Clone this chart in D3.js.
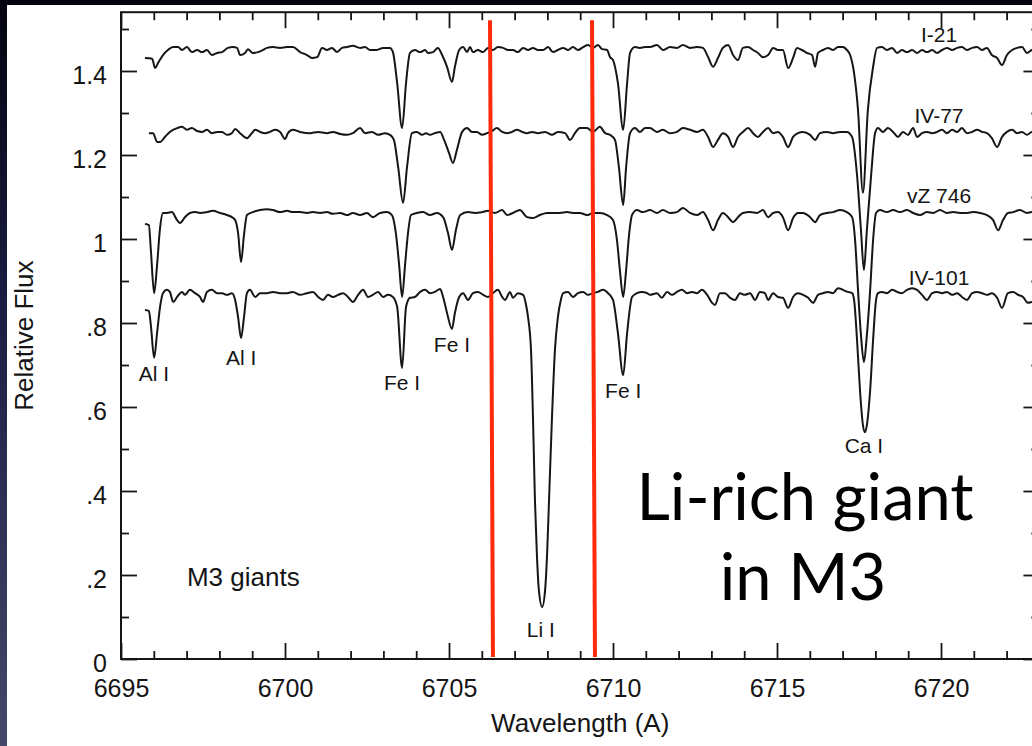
<!DOCTYPE html>
<html>
<head>
<meta charset="utf-8">
<script src="https://cdn.jsdelivr.net/npm/d3@7"></script>
<style>
  html, body { margin: 0; padding: 0; background: #0b0c20; overflow: hidden; }
  svg { display: block; }
</style>
</head>
<body>
<svg id="chart" width="1032" height="746"></svg>
<script>
// ---- Spectra of four M3 red giants: [wavelength (A), relative flux] ----
const specI21 = [
  [6695.73,1.431],[6695.95,1.429],[6696.04,1.407],[6696.13,1.419],[6696.28,1.438],[6696.43,1.450],[6696.59,1.457],[6696.74,1.457],
  [6696.86,1.450],[6697.01,1.457],[6697.16,1.445],[6697.32,1.450],[6697.47,1.445],[6697.62,1.450],[6697.77,1.438],[6697.93,1.443],
  [6698.08,1.445],[6698.26,1.455],[6698.41,1.457],[6698.54,1.455],[6698.63,1.438],[6698.78,1.443],[6698.87,1.452],[6699.02,1.443],
  [6699.18,1.445],[6699.33,1.450],[6699.45,1.455],[6699.63,1.457],[6699.85,1.455],[6700.06,1.457],[6700.24,1.457],[6700.46,1.445],
  [6700.67,1.438],[6700.82,1.431],[6700.98,1.433],[6701.13,1.455],[6701.28,1.450],[6701.43,1.455],[6701.59,1.445],[6701.74,1.455],
  [6701.89,1.457],[6702.07,1.460],[6702.29,1.455],[6702.44,1.457],[6702.59,1.450],[6702.80,1.450],[6702.99,1.455],[6703.20,1.455],
  [6703.29,1.445],[6703.42,1.371],[6703.57,1.264],[6703.69,1.371],[6703.81,1.443],[6703.96,1.450],[6704.12,1.445],[6704.27,1.450],
  [6704.36,1.443],[6704.51,1.445],[6704.66,1.455],[6704.79,1.438],[6704.94,1.410],[6705.09,1.374],[6705.18,1.410],[6705.31,1.450],
  [6705.43,1.457],[6705.55,1.445],[6705.64,1.457],[6705.73,1.445],[6705.88,1.450],[6706.04,1.445],[6706.19,1.455],[6706.34,1.450],
  [6706.49,1.457],[6706.65,1.455],[6706.80,1.450],[6706.95,1.450],[6707.10,1.445],[6707.26,1.455],[6707.41,1.450],[6707.56,1.455],
  [6707.71,1.450],[6707.87,1.450],[6708.02,1.457],[6708.17,1.445],[6708.32,1.450],[6708.48,1.455],[6708.63,1.450],[6708.78,1.457],
  [6708.93,1.450],[6709.09,1.457],[6709.24,1.462],[6709.39,1.455],[6709.54,1.462],[6709.67,1.452],[6709.82,1.450],[6709.91,1.433],
  [6710.00,1.426],[6710.15,1.371],[6710.31,1.260],[6710.43,1.371],[6710.52,1.443],[6710.67,1.457],[6710.82,1.455],[6710.98,1.457],
  [6711.13,1.457],[6711.34,1.462],[6711.52,1.450],[6711.74,1.457],[6711.95,1.455],[6712.13,1.462],[6712.35,1.455],[6712.56,1.457],
  [6712.74,1.455],[6712.90,1.433],[6713.05,1.410],[6713.20,1.431],[6713.35,1.455],[6713.51,1.462],[6713.66,1.438],[6713.81,1.426],
  [6713.96,1.455],[6714.12,1.457],[6714.27,1.450],[6714.42,1.443],[6714.57,1.433],[6714.73,1.438],[6714.88,1.455],[6715.03,1.450],
  [6715.18,1.450],[6715.34,1.407],[6715.49,1.431],[6715.61,1.455],[6715.76,1.450],[6715.91,1.443],[6716.07,1.438],[6716.16,1.410],
  [6716.25,1.443],[6716.40,1.450],[6716.55,1.455],[6716.71,1.450],[6716.86,1.457],[6717.01,1.457],[6717.13,1.450],[6717.23,1.438],
  [6717.35,1.395],[6717.47,1.307],[6717.62,1.110],[6717.77,1.307],[6717.93,1.410],[6718.05,1.455],[6718.20,1.457],[6718.35,1.450],
  [6718.51,1.455],[6718.66,1.443],[6718.81,1.450],[6718.96,1.445],[6719.12,1.450],[6719.27,1.443],[6719.42,1.450],[6719.57,1.445],
  [6719.73,1.450],[6719.88,1.443],[6720.03,1.450],[6720.18,1.455],[6720.34,1.450],[6720.49,1.455],[6720.64,1.457],[6720.79,1.450],
  [6720.95,1.455],[6721.10,1.457],[6721.25,1.450],[6721.40,1.455],[6721.55,1.438],[6721.71,1.431],[6721.86,1.414],[6722.01,1.438],
  [6722.17,1.450],[6722.32,1.455],[6722.47,1.457],[6722.62,1.443],[6722.77,1.450],[6723.00,1.452]
];

const specIV77 = [
  [6695.85,1.252],[6695.98,1.252],[6696.10,1.231],[6696.19,1.231],[6696.34,1.243],[6696.49,1.255],[6696.71,1.264],[6696.86,1.267],
  [6697.01,1.260],[6697.16,1.264],[6697.32,1.257],[6697.47,1.255],[6697.62,1.260],[6697.77,1.252],[6697.93,1.255],[6698.08,1.255],
  [6698.23,1.248],[6698.38,1.252],[6698.48,1.262],[6698.63,1.252],[6698.84,1.240],[6698.99,1.252],[6699.09,1.260],[6699.24,1.255],
  [6699.39,1.252],[6699.54,1.255],[6699.70,1.260],[6699.85,1.255],[6700.00,1.238],[6700.09,1.252],[6700.24,1.260],[6700.46,1.255],
  [6700.76,1.252],[6701.01,1.255],[6701.28,1.252],[6701.46,1.255],[6701.68,1.250],[6701.89,1.248],[6702.07,1.252],[6702.29,1.264],
  [6702.44,1.252],[6702.65,1.255],[6702.84,1.248],[6703.05,1.252],[6703.20,1.248],[6703.32,1.236],[6703.45,1.171],[6703.60,1.086],
  [6703.72,1.171],[6703.87,1.252],[6704.02,1.255],[6704.18,1.248],[6704.30,1.252],[6704.42,1.248],[6704.57,1.252],[6704.73,1.255],
  [6704.85,1.236],[6705.00,1.205],[6705.12,1.181],[6705.24,1.212],[6705.40,1.255],[6705.55,1.264],[6705.70,1.255],[6705.85,1.255],
  [6706.01,1.248],[6706.16,1.252],[6706.31,1.257],[6706.46,1.264],[6706.62,1.255],[6706.77,1.252],[6706.92,1.255],[6707.07,1.260],
  [6707.23,1.255],[6707.38,1.252],[6707.53,1.255],[6707.71,1.252],[6707.93,1.255],[6708.14,1.248],[6708.32,1.255],[6708.54,1.252],
  [6708.69,1.236],[6708.84,1.252],[6708.99,1.264],[6709.21,1.264],[6709.39,1.255],[6709.60,1.267],[6709.76,1.252],[6709.91,1.248],
  [6710.06,1.236],[6710.18,1.171],[6710.31,1.081],[6710.40,1.171],[6710.52,1.252],[6710.67,1.264],[6710.82,1.255],[6710.98,1.264],
  [6711.13,1.264],[6711.34,1.255],[6711.52,1.260],[6711.74,1.252],[6711.95,1.255],[6712.13,1.264],[6712.35,1.260],[6712.56,1.255],
  [6712.74,1.260],[6712.90,1.243],[6713.05,1.219],[6713.20,1.236],[6713.35,1.252],[6713.51,1.243],[6713.66,1.219],[6713.81,1.243],
  [6713.96,1.255],[6714.12,1.264],[6714.27,1.252],[6714.42,1.243],[6714.57,1.255],[6714.73,1.264],[6714.88,1.252],[6715.03,1.255],
  [6715.18,1.243],[6715.34,1.219],[6715.49,1.243],[6715.64,1.252],[6715.79,1.255],[6716.01,1.248],[6716.16,1.236],[6716.31,1.252],
  [6716.52,1.255],[6716.71,1.252],[6716.92,1.255],[6717.13,1.255],[6717.29,1.243],[6717.44,1.152],[6717.56,1.021],[6717.65,0.926],
  [6717.74,1.021],[6717.87,1.152],[6717.99,1.252],[6718.08,1.264],[6718.23,1.255],[6718.38,1.264],[6718.54,1.255],[6718.69,1.243],
  [6718.84,1.255],[6718.99,1.248],[6719.15,1.264],[6719.27,1.243],[6719.42,1.252],[6719.57,1.255],[6719.73,1.252],[6719.88,1.255],
  [6720.03,1.260],[6720.18,1.252],[6720.34,1.260],[6720.49,1.255],[6720.64,1.264],[6720.79,1.252],[6720.95,1.255],[6721.10,1.260],
  [6721.25,1.255],[6721.40,1.252],[6721.55,1.240],[6721.71,1.219],[6721.86,1.243],[6722.01,1.255],[6722.17,1.260],[6722.32,1.252],
  [6722.47,1.255],[6722.62,1.248],[6722.77,1.255],[6723.00,1.255]
];

const specVZ746 = [
  [6695.73,1.036],[6695.85,1.033],[6695.91,0.974],[6696.01,0.871],[6696.10,0.938],[6696.19,1.026],[6696.28,1.062],[6696.40,1.062],
  [6696.55,1.064],[6696.71,1.045],[6696.80,1.038],[6696.95,1.052],[6697.10,1.062],[6697.26,1.064],[6697.41,1.062],[6697.62,1.064],
  [6697.80,1.067],[6698.02,1.062],[6698.23,1.057],[6698.38,1.052],[6698.48,1.045],[6698.57,1.014],[6698.66,0.945],[6698.75,1.010],
  [6698.84,1.057],[6699.02,1.064],[6699.24,1.069],[6699.45,1.071],[6699.63,1.069],[6699.85,1.064],[6700.06,1.067],[6700.24,1.064],
  [6700.46,1.064],[6700.67,1.062],[6700.85,1.064],[6701.07,1.062],[6701.28,1.064],[6701.46,1.060],[6701.68,1.062],[6701.89,1.057],
  [6702.07,1.062],[6702.29,1.057],[6702.50,1.062],[6702.68,1.052],[6702.90,1.062],[6703.11,1.064],[6703.26,1.057],[6703.38,1.014],
  [6703.48,0.938],[6703.57,0.862],[6703.66,0.938],[6703.75,1.014],[6703.84,1.057],[6704.02,1.062],[6704.21,1.064],[6704.42,1.057],
  [6704.63,1.062],[6704.82,1.052],[6704.97,1.014],[6705.09,0.974],[6705.21,1.021],[6705.34,1.057],[6705.58,1.064],[6705.79,1.062],
  [6706.01,1.064],[6706.19,1.067],[6706.40,1.062],[6706.62,1.069],[6706.77,1.057],[6706.95,1.062],[6707.16,1.069],[6707.38,1.052],
  [6707.56,1.050],[6707.77,1.057],[6707.99,1.062],[6708.17,1.062],[6708.38,1.062],[6708.60,1.064],[6708.78,1.062],[6708.99,1.062],
  [6709.21,1.057],[6709.39,1.062],[6709.60,1.062],[6709.82,1.057],[6710.00,1.045],[6710.12,0.998],[6710.21,0.926],[6710.31,0.862],
  [6710.40,0.926],[6710.49,1.010],[6710.58,1.057],[6710.73,1.069],[6710.91,1.064],[6711.13,1.069],[6711.34,1.062],[6711.52,1.069],
  [6711.74,1.062],[6711.95,1.064],[6712.13,1.074],[6712.35,1.062],[6712.56,1.057],[6712.74,1.064],[6712.90,1.045],[6713.05,1.021],
  [6713.20,1.045],[6713.35,1.062],[6713.51,1.052],[6713.66,1.040],[6713.81,1.052],[6713.96,1.062],[6714.18,1.064],[6714.39,1.062],
  [6714.57,1.069],[6714.73,1.052],[6714.88,1.062],[6715.03,1.064],[6715.18,1.052],[6715.34,1.021],[6715.49,1.050],[6715.64,1.062],
  [6715.79,1.062],[6716.01,1.052],[6716.16,1.040],[6716.31,1.057],[6716.52,1.062],[6716.71,1.064],[6716.92,1.069],[6717.13,1.064],
  [6717.29,1.052],[6717.38,0.998],[6717.47,0.879],[6717.56,0.771],[6717.65,0.707],[6717.74,0.771],[6717.84,0.879],[6717.93,0.998],
  [6718.02,1.062],[6718.14,1.069],[6718.35,1.064],[6718.54,1.069],[6718.75,1.064],[6718.96,1.069],[6719.15,1.062],[6719.36,1.057],
  [6719.57,1.064],[6719.76,1.062],[6719.97,1.069],[6720.18,1.062],[6720.37,1.064],[6720.58,1.062],[6720.79,1.062],[6720.98,1.064],
  [6721.19,1.062],[6721.40,1.057],[6721.59,1.045],[6721.74,1.021],[6721.89,1.045],[6722.04,1.062],[6722.20,1.064],[6722.41,1.069],
  [6722.62,1.062],[6722.77,1.064],[6723.00,1.064]
];

const specIV101 = [
  [6695.73,0.831],[6695.85,0.829],[6695.91,0.795],[6696.01,0.717],[6696.10,0.776],[6696.19,0.838],[6696.28,0.871],[6696.40,0.879],
  [6696.49,0.874],[6696.59,0.850],[6696.71,0.862],[6696.86,0.874],[6696.95,0.867],[6697.10,0.879],[6697.26,0.871],[6697.41,0.862],
  [6697.50,0.850],[6697.62,0.874],[6697.77,0.879],[6697.93,0.871],[6698.08,0.871],[6698.23,0.867],[6698.38,0.871],[6698.48,0.855],
  [6698.57,0.814],[6698.66,0.764],[6698.75,0.814],[6698.84,0.871],[6698.93,0.879],[6699.09,0.862],[6699.24,0.871],[6699.45,0.871],
  [6699.63,0.874],[6699.85,0.871],[6700.06,0.871],[6700.24,0.874],[6700.46,0.867],[6700.67,0.871],[6700.85,0.874],[6701.01,0.862],
  [6701.16,0.855],[6701.31,0.867],[6701.46,0.862],[6701.62,0.867],[6701.77,0.871],[6701.92,0.862],[6702.07,0.850],[6702.23,0.867],
  [6702.38,0.879],[6702.53,0.862],[6702.68,0.867],[6702.84,0.874],[6702.99,0.862],[6703.14,0.867],[6703.29,0.862],[6703.42,0.838],
  [6703.57,0.693],[6703.69,0.838],[6703.81,0.860],[6703.96,0.862],[6704.12,0.874],[6704.27,0.879],[6704.42,0.871],[6704.57,0.874],
  [6704.73,0.881],[6704.82,0.862],[6704.94,0.824],[6705.09,0.786],[6705.18,0.824],[6705.31,0.862],[6705.43,0.871],[6705.58,0.855],
  [6705.73,0.871],[6705.88,0.874],[6706.04,0.867],[6706.19,0.862],[6706.34,0.871],[6706.49,0.879],[6706.62,0.862],[6706.71,0.855],
  [6706.86,0.874],[6706.95,0.860],[6707.10,0.871],[6707.26,0.867],[6707.35,0.843],[6707.41,0.814],[6707.50,0.736],[6707.56,0.576],
  [6707.62,0.379],[6707.68,0.248],[6707.74,0.164],[6707.84,0.124],[6707.93,0.164],[6707.99,0.248],[6708.05,0.379],[6708.14,0.576],
  [6708.23,0.736],[6708.32,0.814],[6708.41,0.855],[6708.48,0.871],[6708.63,0.874],[6708.78,0.862],[6708.93,0.871],[6709.09,0.874],
  [6709.24,0.867],[6709.39,0.871],[6709.54,0.874],[6709.70,0.879],[6709.85,0.871],[6710.00,0.855],[6710.15,0.776],[6710.31,0.676],
  [6710.43,0.776],[6710.58,0.862],[6710.73,0.871],[6710.88,0.874],[6711.04,0.871],[6711.13,0.867],[6711.34,0.871],[6711.49,0.860],
  [6711.65,0.874],[6711.80,0.867],[6711.95,0.874],[6712.10,0.879],[6712.26,0.871],[6712.41,0.874],[6712.56,0.871],[6712.71,0.879],
  [6712.87,0.867],[6713.02,0.848],[6713.11,0.843],[6713.26,0.871],[6713.41,0.871],[6713.57,0.860],[6713.72,0.855],[6713.87,0.871],
  [6714.02,0.867],[6714.18,0.871],[6714.33,0.855],[6714.48,0.874],[6714.63,0.871],[6714.73,0.855],[6714.88,0.871],[6715.03,0.862],
  [6715.18,0.860],[6715.34,0.836],[6715.49,0.862],[6715.64,0.871],[6715.79,0.867],[6715.95,0.860],[6716.10,0.848],[6716.25,0.867],
  [6716.40,0.871],[6716.55,0.874],[6716.71,0.871],[6716.86,0.883],[6717.01,0.879],[6717.16,0.874],[6717.29,0.871],[6717.35,0.855],
  [6717.44,0.760],[6717.53,0.640],[6717.62,0.557],[6717.68,0.540],[6717.74,0.557],[6717.84,0.640],[6717.93,0.760],[6718.02,0.855],
  [6718.08,0.871],[6718.20,0.874],[6718.35,0.871],[6718.51,0.879],[6718.66,0.874],[6718.81,0.871],[6718.96,0.879],[6719.12,0.883],
  [6719.27,0.879],[6719.42,0.867],[6719.57,0.855],[6719.73,0.871],[6719.88,0.874],[6720.03,0.871],[6720.18,0.874],[6720.34,0.867],
  [6720.49,0.871],[6720.64,0.862],[6720.79,0.855],[6720.95,0.871],[6721.10,0.874],[6721.25,0.871],[6721.40,0.867],[6721.55,0.871],
  [6721.71,0.860],[6721.86,0.836],[6722.04,0.871],[6722.20,0.874],[6722.35,0.867],[6722.50,0.862],[6722.65,0.848],[6722.77,0.850],
  [6723.00,0.855]
];

const spectra = [specI21, specIV77, specVZ746, specIV101];

// Star identifiers, written just above each spectrum
const starNames = ["I-21", "IV-77", "vZ 746", "IV-101"];
const starLabelWave = 6719.94;
const starLabelFlux = [1.469, 1.276, 1.086, 0.890];

// Absorption line identifications
const lineNames = ["Al I", "Al I", "Fe I", "Fe I", "Li I", "Fe I", "Ca I"];
const lineWaves = [6696.0, 6698.66, 6703.57, 6705.09, 6707.8, 6710.31, 6717.65];
const lineLabelFlux = [0.662, 0.700, 0.640, 0.731, 0.052, 0.621, 0.490];

// Wavelength window bracketing the Li I line (top and bottom ends)
const markWaveTop = [6706.25, 6709.36];
const markWaveBottom = [6706.34, 6709.45];
const markFluxTop = 1.521;
const markFluxBottom = 0.005;

// Axis ticks
const xMajorTicks = [6695, 6700, 6705, 6710, 6715, 6720];
const xMinorTicks = [6696,6697,6698,6699,6701,6702,6703,6704,6706,6707,6708,6709,6711,6712,6713,6714,6716,6717,6718,6719,6721,6722];
const yMajorTicks = [0, 0.2, 0.4, 0.6, 0.8, 1, 1.2, 1.4];
const yMinorTicks = [0.1, 0.3, 0.5, 0.7, 0.9, 1.1, 1.3, 1.5];

// ---------------------------------------------------------------
const W = 1032, H = 746;
const svg = d3.select("#chart");
const FONT = "'Liberation Sans', Arial, Helvetica, sans-serif";
const INK = "#151515";

// slide backdrop and the white figure panel
const defs = svg.append("defs");
const bg = defs.append("linearGradient").attr("id", "slideBg")
  .attr("x1", 0).attr("y1", 0).attr("x2", 0).attr("y2", 1);
bg.append("stop").attr("offset", "0%").attr("stop-color", "#04040f");
bg.append("stop").attr("offset", "40%").attr("stop-color", "#1a1c42");
bg.append("stop").attr("offset", "100%").attr("stop-color", "#45486a");
svg.append("rect").attr("width", W).attr("height", H).attr("fill", "url(#slideBg)");
svg.append("rect").attr("x", 7).attr("y", 5).attr("width", W - 7).attr("height", H - 5).attr("fill", "#ffffff");

const x = d3.scaleLinear().domain([6695, 6723]).range([121, 1039.4]);
const y = d3.scaleLinear().domain([0, 1.54]).range([659, 12.2]);

defs.append("clipPath").attr("id", "plotClip")
  .append("rect").attr("x", x(6695)).attr("y", y(1.54))
  .attr("width", x(6723) - x(6695)).attr("height", y(0) - y(1.54));

// frame
svg.append("rect")
  .attr("x", x(6695)).attr("y", y(1.54))
  .attr("width", x(6723) - x(6695)).attr("height", y(0) - y(1.54))
  .attr("fill", "none").attr("stroke", INK).attr("stroke-width", 2);

function styleAxis(g) {
  g.select(".domain").remove();
  g.selectAll(".tick line").attr("stroke", INK).attr("stroke-width", 1.8);
  g.selectAll("text").attr("fill", INK).attr("font-family", FONT).attr("font-size", 25);
}
const noLabel = () => "";
const yFmt = d => d === 0 ? "0" : (Number.isInteger(d) ? String(d) : d3.format(".1f")(d).replace(/^0/, ""));

// bottom axis (inward ticks)
svg.append("g").attr("transform", `translate(0,${y(0)})`)
  .call(d3.axisBottom(x).tickValues(xMinorTicks).tickSize(-8).tickFormat(noLabel)).call(styleAxis);
svg.append("g").attr("transform", `translate(0,${y(0)})`)
  .call(d3.axisBottom(x).tickValues(xMajorTicks).tickSize(-16).tickFormat(d3.format("d")))
  .call(styleAxis)
  .call(g => g.selectAll("text").attr("y", 38).attr("dy", null));

// top axis
svg.append("g").attr("transform", `translate(0,${y(1.54)})`)
  .call(d3.axisTop(x).tickValues(xMinorTicks).tickSize(-8).tickFormat(noLabel)).call(styleAxis);
svg.append("g").attr("transform", `translate(0,${y(1.54)})`)
  .call(d3.axisTop(x).tickValues(xMajorTicks).tickSize(-16).tickFormat(noLabel)).call(styleAxis);

// left axis
svg.append("g").attr("transform", `translate(${x(6695)},0)`)
  .call(d3.axisLeft(y).tickValues(yMinorTicks).tickSize(-8).tickFormat(noLabel)).call(styleAxis);
svg.append("g").attr("transform", `translate(${x(6695)},0)`)
  .call(d3.axisLeft(y).tickValues(yMajorTicks).tickSize(-16).tickPadding(14).tickFormat(yFmt))
  .call(styleAxis)
  .call(g => g.selectAll("text").attr("dy", null).attr("y", 12));

// right axis
svg.append("g").attr("transform", `translate(${x(6723)},0)`)
  .call(d3.axisRight(y).tickValues(yMinorTicks).tickSize(-8).tickFormat(noLabel)).call(styleAxis);
svg.append("g").attr("transform", `translate(${x(6723)},0)`)
  .call(d3.axisRight(y).tickValues(yMajorTicks).tickSize(-16).tickFormat(noLabel)).call(styleAxis);

// axis titles
svg.append("text")
  .attr("x", (x(6695) + x(6723)) / 2).attr("y", 732)
  .attr("text-anchor", "middle").attr("font-family", FONT).attr("font-size", 26).attr("fill", INK)
  .text("Wavelength (A)");
svg.append("text")
  .attr("transform", `translate(33,${(y(0) + y(1.54)) / 2}) rotate(-90)`)
  .attr("text-anchor", "middle").attr("font-family", FONT).attr("font-size", 26).attr("fill", INK)
  .text("Relative Flux");

// spectra
const line = d3.line().x(d => x(d[0])).y(d => y(d[1])).curve(d3.curveMonotoneX);
svg.append("g").attr("clip-path", "url(#plotClip)")
  .selectAll("path").data(spectra).join("path")
  .attr("d", line)
  .attr("fill", "none").attr("stroke", "#161616").attr("stroke-width", 2)
  .attr("stroke-linejoin", "round");

// star names
svg.append("g").selectAll("text").data(starNames).join("text")
  .attr("x", x(starLabelWave)).attr("y", (d, i) => y(starLabelFlux[i]))
  .attr("text-anchor", "middle").attr("font-family", FONT).attr("font-size", 21).attr("fill", INK)
  .text(d => d);

// line identifications
svg.append("g").selectAll("text").data(lineNames).join("text")
  .attr("x", (d, i) => x(lineWaves[i])).attr("y", (d, i) => y(lineLabelFlux[i]))
  .attr("text-anchor", "middle").attr("font-family", FONT).attr("font-size", 21).attr("fill", INK)
  .text(d => d);

// panel caption
svg.append("text")
  .attr("x", x(6697.01)).attr("y", y(0.174))
  .attr("font-family", FONT).attr("font-size", 26).attr("fill", INK)
  .text("M3 giants");

// red markers around the Li I 6708 line
svg.append("g").selectAll("line").data(markWaveTop).join("line")
  .attr("x1", d => x(d)).attr("y1", y(markFluxTop))
  .attr("x2", (d, i) => x(markWaveBottom[i])).attr("y2", y(markFluxBottom))
  .attr("stroke", "#ff2a0c").attr("stroke-width", 4);

// slide headline
const head = svg.append("text")
  .attr("text-anchor", "middle").attr("font-family", "Lato, 'Open Sans', sans-serif")
  .attr("font-size", 65).attr("fill", "#000");
head.append("tspan").attr("x", 805).attr("y", 520).text("Li-rich giant");
head.append("tspan").attr("x", 803).attr("y", 600).text("in M3");
</script>
</body>
</html>
